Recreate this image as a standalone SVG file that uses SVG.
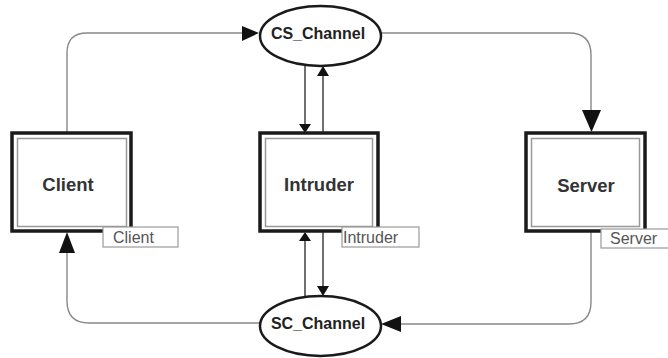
<svg xmlns="http://www.w3.org/2000/svg" width="668" height="358" viewBox="0 0 668 358">
<defs>
<style>
.outer{fill:#fff;stroke:#1a1a1a;stroke-width:3.5}
.inner{fill:none;stroke:#999;stroke-width:1.5}
.lbl{font-family:"Liberation Sans",Arial,sans-serif;font-size:18.5px;font-weight:bold;fill:#333;text-anchor:middle}
.tag{fill:#fff;stroke:#999;stroke-width:1.2}
.tagt{font-family:"Liberation Sans",Arial,sans-serif;font-size:16px;fill:#555}
.ell{fill:#fff;stroke:#1a1a1a;stroke-width:2.5}
.elt{font-family:"Liberation Sans",Arial,sans-serif;font-size:16px;font-weight:bold;fill:#222;text-anchor:middle}
.con{fill:none;stroke:#888;stroke-width:1.4}
.dark{fill:none;stroke:#333;stroke-width:1.4}
.head{fill:#111}
</style>
</defs>
<g id="connectors">
<path class="con" d="M67,133 V53 Q67,33 87,33 H243"/>
<polygon class="head" points="242,26 259,33 242,41"/>
<path class="con" d="M381,33 H569 Q591,33 591,55 V111"/>
<polygon class="head" points="582,110 601,110 591.5,132"/>
<path class="con" d="M591,232 V302 Q591,324 569,324 H400"/>
<polygon class="head" points="401,316 401,332 381,324"/>
<path class="con" d="M260,323 H89 Q67,323 67,301 V252"/>
<polygon class="head" points="59,253 75,253 67,232"/>
<path class="dark" d="M305,66 V125"/>
<polygon class="head" points="299,124 311,124 305,133"/>
<path class="dark" d="M323,133 V75"/>
<polygon class="head" points="317,76 329,76 323,66"/>
<path class="dark" d="M305,297 V240"/>
<polygon class="head" points="299,241 311,241 305,232"/>
<path class="dark" d="M323,232 V287"/>
<polygon class="head" points="317,286 329,286 323,296"/>
</g>
<g id="client">
<rect class="outer" x="12" y="133" width="119" height="98"/>
<rect class="inner" x="17.5" y="138.5" width="109" height="88"/>
<text class="lbl" x="68" y="191">Client</text>
<rect class="tag" x="103" y="227" width="75" height="20"/>
<text class="tagt" x="113" y="243">Client</text>
</g>
<g id="intruder">
<rect class="outer" x="260" y="133" width="118" height="98"/>
<rect class="inner" x="265.5" y="138.5" width="107" height="88"/>
<text class="lbl" x="319" y="191">Intruder</text>
<rect class="tag" x="342" y="227" width="77" height="20"/>
<text class="tagt" x="343" y="243">Intruder</text>
</g>
<g id="server">
<rect class="outer" x="526" y="133" width="119" height="98"/>
<rect class="inner" x="531.5" y="138.5" width="108" height="88"/>
<text class="lbl" x="586" y="192">Server</text>
<rect class="tag" x="601" y="229" width="70" height="19"/>
<text class="tagt" x="610" y="244">Server</text>
</g>
<g id="cs_channel">
<ellipse class="ell" cx="320.5" cy="36" rx="60.5" ry="30"/>
<text class="elt" x="318" y="39">CS_Channel</text>
</g>
<g id="sc_channel">
<ellipse class="ell" cx="320.5" cy="326" rx="60.5" ry="30"/>
<text class="elt" x="318" y="329">SC_Channel</text>
</g>
</svg>
